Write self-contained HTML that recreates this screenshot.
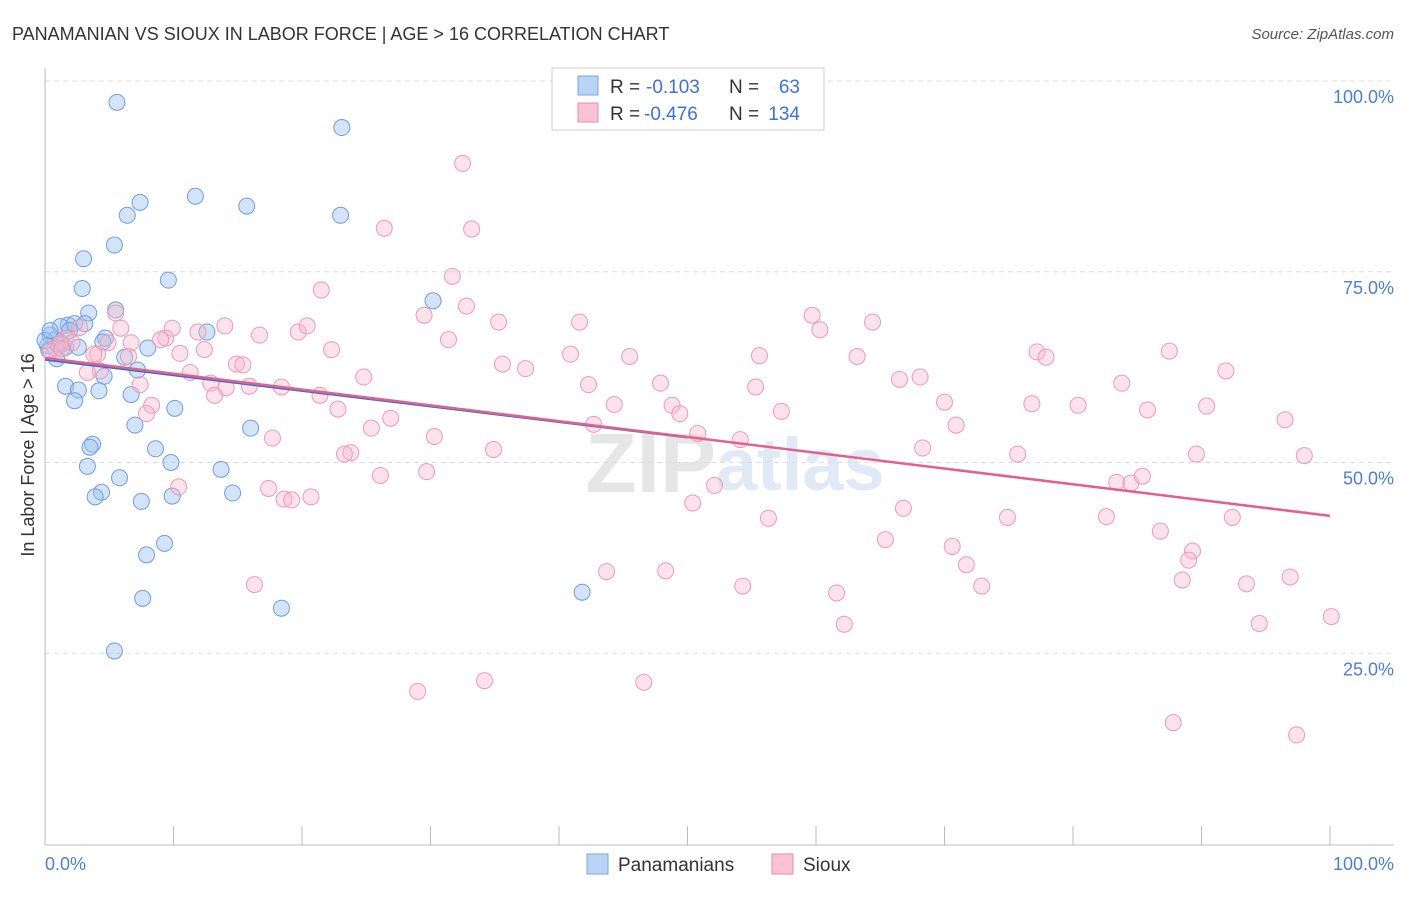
<!DOCTYPE html>
<html><head><meta charset="utf-8"><style>
body{margin:0;background:#fff;font-family:"Liberation Sans",sans-serif;}
svg text{font-family:"Liberation Sans",sans-serif;}
</style></head><body>
<svg id="chart" width="1406" height="892">
<text x="12" y="40" font-size="18" fill="#333">PANAMANIAN VS SIOUX IN LABOR FORCE | AGE &gt; 16 CORRELATION CHART</text>
<text x="1394" y="39" font-size="15" fill="#555" text-anchor="end" font-style="italic">Source: ZipAtlas.com</text>
<text x="716" y="492" font-size="84" fill="#e6e6e6" text-anchor="end" font-weight="bold" font-family="Liberation Serif">ZIP</text>
<text x="716" y="490" font-size="74" fill="#e0e9f6" font-weight="bold">atlas</text>
<g id="grid"></g><g id="axes"></g><g id="pts"></g><g id="trend"></g>
<text transform="translate(34,455) rotate(-90)" font-size="18" fill="#333" text-anchor="middle">In Labor Force | Age &gt; 16</text>
<text x="45" y="870" font-size="18" fill="#4a7fd4">0.0%</text>
<text x="1394" y="870" font-size="18" fill="#4a7fd4" text-anchor="end">100.0%</text>
<g>
<rect x="552" y="68" width="272" height="62" fill="#fff" stroke="#ccc"/>
<rect x="578" y="76" width="20" height="19" fill="#b9d3f5" stroke="#7aa5e0"/>
<rect x="578" y="103" width="20" height="19" fill="#f9c3d3" stroke="#e98cab"/>
<text x="610" y="93" font-size="19" fill="#333">R =</text>
<text x="646" y="93" font-size="19" fill="#3b73d1">-0.103</text>
<text x="729" y="93" font-size="19" fill="#333">N =</text>
<text x="800" y="93" font-size="19" fill="#3b73d1" text-anchor="end">63</text>
<text x="610" y="120" font-size="19" fill="#333">R =</text>
<text x="644" y="120" font-size="19" fill="#3b73d1">-0.476</text>
<text x="729" y="120" font-size="19" fill="#333">N =</text>
<text x="800" y="120" font-size="19" fill="#3b73d1" text-anchor="end">134</text>
</g>
<g>
<rect x="587" y="854" width="21" height="20" fill="#b9d3f5" stroke="#7aa5e0"/>
<text x="618" y="871" font-size="19" fill="#333">Panamanians</text>
<rect x="772" y="854" width="21" height="20" fill="#f9c3d3" stroke="#e98cab"/>
<text x="803" y="871" font-size="19" fill="#333">Sioux</text>
</g>
</svg>
<script>
const yTicks=[25,50,75,100];
const yTickLabels=["25.0%","50.0%","75.0%","100.0%"];
const xTicks=[0,10,20,30,40,50,60,70,80,90,100];
const blueX=[5.6,23.1,11.7,7.4,15.7,6.4,23.0,5.4,3.0,9.6,2.9,30.2,5.5,3.4,1.8,1.2,2.3,3.1,12.6,4.7,0.4,0.8,1.3,1.6,2.6,8.0,4.5,6.2,0.9,7.2,4.6,1.6,2.6,4.2,6.7,2.3,10.1,7.0,16.0,3.7,3.5,8.6,3.3,9.8,13.7,5.8,4.4,3.9,7.5,14.6,9.9,9.3,7.9,18.4,41.8,7.6,5.4,0.2,0.3,1.0,1.9,0.0,0.4];
const blueY=[97.2,93.9,84.9,84.1,83.6,82.4,82.4,78.5,76.7,73.9,72.8,71.2,70.0,69.6,68.0,67.8,68.2,68.2,67.1,66.3,66.7,66.1,65.5,65.1,65.1,65.0,65.8,63.8,63.6,62.1,61.3,60.0,59.5,59.4,58.9,58.1,57.1,54.9,54.5,52.4,52.0,51.8,49.5,50.0,49.1,48.0,46.1,45.5,44.9,46.0,45.6,39.4,37.9,30.9,33.0,32.2,25.3,65.3,64.7,65.5,67.3,66.0,67.3];
const pinkX=[32.5,26.4,33.2,31.7,21.5,32.8,29.5,59.7,35.3,41.6,64.4,60.3,5.5,5.9,9.9,11.9,14.0,16.7,19.7,20.4,31.4,22.3,9.4,9.0,12.4,10.5,6.7,4.9,4.1,6.5,3.8,40.9,45.5,55.6,63.2,77.2,77.9,87.5,35.6,37.4,14.9,15.4,24.8,11.3,4.3,3.3,7.4,12.9,14.1,15.9,18.4,13.2,21.4,42.3,47.9,66.5,68.1,55.3,83.8,91.9,44.3,48.8,49.4,57.3,70.0,76.8,80.4,85.8,90.4,8.3,7.9,22.8,26.9,42.7,50.8,54.1,70.9,96.5,17.7,25.4,30.3,34.9,23.8,23.3,68.3,75.7,89.6,98.0,26.1,29.7,10.4,17.4,18.6,20.7,19.2,52.1,83.4,84.5,85.4,50.4,66.8,56.3,74.9,82.6,92.4,86.8,65.4,70.6,89.3,89.0,71.7,43.7,48.3,88.5,93.5,96.9,16.3,54.3,72.9,61.6,62.2,94.5,100.1,29.0,34.2,46.6,87.8,97.4,0.8,1.6,2.1,1.2,2.7,0.4,1.3];
const pinkY=[89.2,80.7,80.6,74.4,72.6,70.5,69.3,69.3,68.4,68.4,68.4,67.4,69.6,67.6,67.6,67.1,67.9,66.7,67.1,67.9,66.1,64.8,66.3,66.1,64.8,64.3,65.7,65.7,64.2,63.9,64.2,64.2,63.9,64.0,63.9,64.5,63.8,64.6,62.9,62.3,62.9,62.8,61.2,61.8,62.0,61.8,60.2,60.4,59.8,60.0,59.9,58.8,58.8,60.2,60.4,60.9,61.2,59.9,60.4,62.0,57.6,57.5,56.4,56.7,57.9,57.7,57.5,56.9,57.4,57.5,56.4,57.0,55.8,55.0,53.8,53.0,54.9,55.6,53.2,54.5,53.4,51.7,51.3,51.1,51.9,51.1,51.1,50.9,48.3,48.8,46.8,46.6,45.2,45.5,45.1,47.0,47.4,47.3,48.2,44.7,44.0,42.7,42.8,42.9,42.8,41.0,39.9,39.0,38.4,37.2,36.6,35.7,35.8,34.6,34.1,35.0,34.0,33.8,33.8,32.9,28.8,28.9,29.8,20.0,21.4,21.2,15.9,14.3,65.0,66.3,65.7,65.7,67.7,64.6,64.9];
const blueTrend=[[0,63.5],[50,53.3]];
const pinkTrend=[[0,63.7],[100,43.0]];
const X0=45,X1=1330,Y0=844,Y100=81;
const sx=v=>X0+(X1-X0)*v/100, sy=v=>Y0-(Y0-Y100)*v/100;
const NS="http://www.w3.org/2000/svg";
function mk(tag,attrs,parent){const e=document.createElementNS(NS,tag);for(const k in attrs)e.setAttribute(k,attrs[k]);document.getElementById(parent).appendChild(e);return e;}
yTicks.forEach((t,i)=>{
 const l=mk('line',{x1:45,x2:1394,y1:sy(t),y2:sy(t),stroke:'#ddd','stroke-dasharray':'5,4'},'grid');
 
 
 const tx=mk('text',{x:1394,y:sy(t)+22,'font-size':18,fill:'#4a7fd4','text-anchor':'end'},'grid');
 tx.textContent=yTickLabels[i];
 
 
});
const ya=mk('line',{x1:45,x2:45,y1:68,y2:845,stroke:'#bbb'},'axes');


const xa=mk('line',{x1:45,x2:1394,y1:845,y2:845,stroke:'#bbb'},'axes');


xTicks.forEach(t=>{
 const l=mk('line',{x1:sx(t),x2:sx(t),y1:826,y2:845,stroke:'#bbb'},'axes');
 
 
});
blueX.forEach((x,i)=>{
 const c=mk('circle',{cx:sx(x),cy:sy(blueY[i]),r:8,fill:'rgba(160,195,240,0.45)',stroke:'#6f9de0','stroke-width':1},'pts');
 
 
});
pinkX.forEach((x,i)=>{
 const c=mk('circle',{cx:sx(x),cy:sy(pinkY[i]),r:8,fill:'rgba(248,185,205,0.4)',stroke:'#eb9ab5','stroke-width':1},'pts');
 
 
});
const bt=mk('line',{x1:sx(blueTrend[0][0]),y1:sy(blueTrend[0][1]),x2:sx(blueTrend[1][0]),y2:sy(blueTrend[1][1]),stroke:'#2f6fd6','stroke-width':2.5},'trend');


const sl=(blueTrend[1][1]-blueTrend[0][1])/(blueTrend[1][0]-blueTrend[0][0]);
const bd=mk('line',{x1:sx(blueTrend[1][0]),y1:sy(blueTrend[1][1]),x2:sx(100),y2:sy(blueTrend[1][1]+sl*(100-blueTrend[1][0])),stroke:'#9bb8e6','stroke-width':1.5,'stroke-dasharray':'5,4'},'trend');


const pt=mk('line',{x1:sx(pinkTrend[0][0]),y1:sy(pinkTrend[0][1]),x2:sx(pinkTrend[1][0]),y2:sy(pinkTrend[1][1]),stroke:'#e4608c','stroke-width':2.5},'trend');


</script>
</body></html>
